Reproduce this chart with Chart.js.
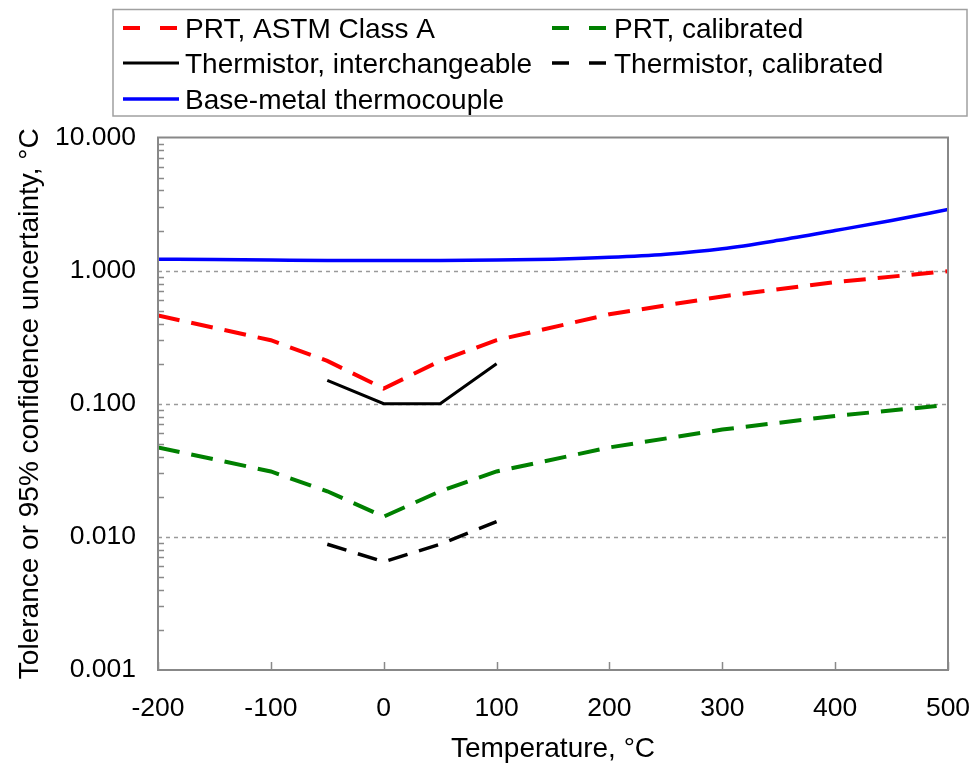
<!DOCTYPE html>
<html><head><meta charset="utf-8">
<script src="https://cdn.jsdelivr.net/npm/chart.js@4.4.0/dist/chart.umd.min.js"></script>
<style>html,body{margin:0;padding:0;background:#fff;}#wrap{width:972px;height:772px;}</style>
</head><body><div id="wrap"><canvas id="c" width="972" height="772"></canvas></div>
<script>
// ---- data ----
const tPRT = [-200, -100, -50, 0, 50, 100, 200, 300, 400, 500];
const prtClassA = [0.46, 0.30, 0.21, 0.13, 0.21, 0.30, 0.47, 0.64, 0.82, 0.99];
const prtCalibrated = [0.047, 0.031, 0.022, 0.0142, 0.022, 0.031, 0.047, 0.064, 0.081, 0.098];
const tThermistor = [-50, 0, 50, 100];
const thermInterchangeable = [0.15, 0.10, 0.10, 0.20];
const thermCalibrated = [0.0088, 0.0065, 0.0088, 0.013];
const tTC = [-200, -150, -100, -50, 0, 50, 100, 150, 200, 250, 300, 350, 400, 450, 500];
const thermocouple = [1.22, 1.21, 1.20, 1.19, 1.19, 1.19, 1.20, 1.22, 1.26, 1.33, 1.46, 1.69, 2.0, 2.38, 2.88];
const seriesLabels = ['PRT, ASTM Class A', 'PRT, calibrated', 'Thermistor, interchangeable', 'Thermistor, calibrated', 'Base-metal thermocouple'];
const xTickValues = [-200, -100, 0, 100, 200, 300, 400, 500];
const yDecades = [0.001, 0.01, 0.1, 1, 10];

const pts = (xs, ys) => xs.map((x, i) => ({x: x, y: ys[i]}));
const FONT = '"Liberation Sans", Arial, sans-serif';

const decor = {
  id: 'decor',
  beforeDatasetsDraw(chart) {
    const {ctx, chartArea: a, scales: {x, y}} = chart;
    ctx.save();
    ctx.strokeStyle = '#9a9a9a';
    ctx.lineWidth = 1.5;
    ctx.setLineDash([4, 4]);
    [0.01, 0.1, 1].forEach(v => {
      const py = Math.round(y.getPixelForValue(v)) + 0.5;
      ctx.beginPath(); ctx.moveTo(a.left, py); ctx.lineTo(a.right, py); ctx.stroke();
    });
    ctx.setLineDash([]);
    ctx.strokeStyle = '#8a8a8a';
    ctx.lineWidth = 1.5;
    for (let d = 0; d < yDecades.length - 1; d++) {
      for (let k = 2; k <= 9; k++) {
        const py = Math.round(y.getPixelForValue(yDecades[d] * k)) + 0.5;
        ctx.beginPath(); ctx.moveTo(a.left, py); ctx.lineTo(a.left + 6, py); ctx.stroke();
      }
    }
    xTickValues.forEach(v => {
      const px = Math.round(x.getPixelForValue(v)) + 0.5;
      ctx.beginPath(); ctx.moveTo(px, a.bottom); ctx.lineTo(px, a.bottom - 8); ctx.stroke();
    });
    ctx.restore();
  },
  afterDatasetsDraw(chart) {
    const {ctx, chartArea: a} = chart;
    ctx.save();
    ctx.strokeStyle = '#888888';
    ctx.lineWidth = 2;
    ctx.strokeRect(a.left, a.top, a.right - a.left, a.bottom - a.top);
    ctx.restore();
  },
  afterDraw(chart) {
    const ctx = chart.ctx;
    ctx.save();
    ctx.strokeStyle = '#a0a0a0';
    ctx.lineWidth = 1.5;
    ctx.strokeRect(113, 9.5, 854, 106.5);
    const rows = [[0, 1], [2, 3], [4]];
    const rowY = [28, 63, 99];
    const colX = [123, 552];
    ctx.font = '28px ' + FONT;
    ctx.textBaseline = 'middle';
    ctx.textAlign = 'left';
    rows.forEach((r, ri) => {
      r.forEach((di, ci) => {
        const ds = chart.data.datasets[di];
        const x0 = colX[ci], yy = rowY[ri];
        ctx.strokeStyle = ds.borderColor;
        ctx.lineWidth = ds.borderWidth;
        ctx.setLineDash(ds.borderDash && ds.borderDash.length ? [17, 20] : []);
        ctx.beginPath(); ctx.moveTo(x0, yy); ctx.lineTo(x0 + 56, yy); ctx.stroke();
        ctx.setLineDash([]);
        ctx.fillStyle = '#000';
        ctx.fillText(ds.label, x0 + 62, yy + 2);
      });
    });
    ctx.restore();
  }
};

new Chart(document.getElementById('c'), {
  type: 'line',
  data: {
    datasets: [
      {label: seriesLabels[0], data: pts(tPRT, prtClassA), borderColor: '#ff0000', borderWidth: 4, borderDash: [22, 12]},
      {label: seriesLabels[1], data: pts(tPRT, prtCalibrated), borderColor: '#008000', borderWidth: 4, borderDash: [22, 12]},
      {label: seriesLabels[2], data: pts(tThermistor, thermInterchangeable), borderColor: '#000000', borderWidth: 3},
      {label: seriesLabels[3], data: pts(tThermistor, thermCalibrated), borderColor: '#000000', borderWidth: 3.5, borderDash: [20, 12]},
      {label: seriesLabels[4], data: pts(tTC, thermocouple), borderColor: '#0000ff', borderWidth: 3.5, cubicInterpolationMode: 'monotone'}
    ]
  },
  options: {
    responsive: false,
    animation: false,
    devicePixelRatio: 1,
    elements: {point: {radius: 0}, line: {tension: 0, fill: false, borderCapStyle: 'butt'}},
    layout: {padding: {top: 137.5, right: 24, left: 0, bottom: 0}},
    plugins: {legend: {display: false}, tooltip: {enabled: false}},
    scales: {
      x: {
        type: 'linear', min: -200, max: 500,
        afterBuildTicks: s => { s.ticks = xTickValues.map(v => ({value: v})); },
        ticks: {color: '#000', font: {family: FONT, size: 26.5}, padding: 23, maxRotation: 0, autoSkip: false},
        grid: {display: false, drawTicks: false},
        border: {display: false},
        title: {display: true, text: 'Temperature, °C', color: '#000', font: {family: FONT, size: 28}, padding: {top: 0, bottom: 6}},
        afterFit: s => { s.height = 102; s.paddingLeft = 0; s.paddingRight = 0; }
      },
      y: {
        type: 'logarithmic', min: 0.001, max: 10,
        afterBuildTicks: s => { s.ticks = yDecades.map(v => ({value: v})); },
        ticks: {color: '#000', font: {family: FONT, size: 26.5}, padding: 22, autoSkip: false,
          callback: v => Number(v).toFixed(3)},
        grid: {display: false, drawTicks: false},
        border: {display: false},
        title: {display: true, text: 'Tolerance or 95% confidence uncertainty, °C', color: '#000', font: {family: FONT, size: 28}, padding: {top: 13, bottom: 0}},
        afterFit: s => { s.width = 158; s.paddingTop = 0; s.paddingBottom = 0; }
      }
    }
  },
  plugins: [decor]
});
</script></body></html>
